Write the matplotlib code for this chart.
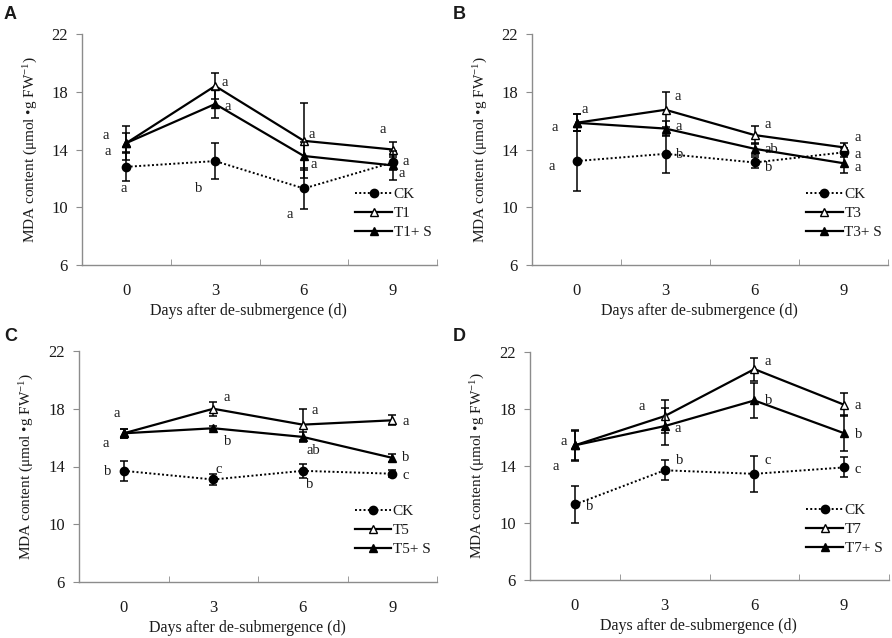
import numpy as np
import matplotlib
matplotlib.use("Agg")
from matplotlib import pyplot as plt
from matplotlib.lines import Line2D

plt.rcParams['font.family'] = ['Liberation Serif', 'DejaVu Serif']
plt.rcParams['mathtext.fontset'] = 'custom'
plt.rcParams['mathtext.rm'] = 'Liberation Serif'
plt.rcParams['mathtext.it'] = 'Liberation Serif:italic'

#==========+
# The data |
#==========+
days = ['0', '3', '6', '9']
yticks = [6, 10, 14, 18, 22]

# panel A
ckA = [12.8, 13.2, 11.3, 13.1]
ckA_err = [1.0, 1.25, 1.4, 0.5]
tA = [14.45, 18.4, 14.6, 14.0]
tA_err = [1.2, 0.9, 2.6, 0.5]
tsA = [14.45, 17.15, 13.55, 12.9]
tsA_err = [0.7, 1.0, 1.0, 1.0]
lettersA = {'ck': ['a', 'b', 'a', 'a'], 't': ['a', 'a', 'a', 'a'], 'ts': ['a', 'a', 'a', 'a']}

# panel B
ckB = [13.2, 13.7, 13.1, 13.8]
ckB_err = [2.1, 1.3, 0.4, 0.3]
tB = [15.85, 16.75, 15.0, 14.15]
tB_err = [0.6, 1.2, 0.6, 0.3]
tsB = [15.85, 15.45, 14.05, 13.05]
tsB_err = [0.6, 0.5, 0.4, 0.7]
lettersB = {'ck': ['a', 'b', 'b', 'a'], 't': ['a', 'a', 'a', 'a'], 'ts': ['a', 'a', 'ab', 'a']}

# panel C
ckC = [13.7, 13.1, 13.7, 13.5]
ckC_err = [0.7, 0.35, 0.5, 0.25]
tC = [16.3, 18.0, 16.9, 17.2]
tC_err = [0.3, 0.5, 1.05, 0.35]
tsC = [16.3, 16.65, 16.05, 14.6]
tsC_err = [0.3, 0.15, 0.35, 0.3]
lettersC = {'ck': ['b', 'c', 'b', 'c'], 't': ['a', 'a', 'a', 'a'], 'ts': ['a', 'b', 'ab', 'b']}

# panel D
ckD = [11.3, 13.7, 13.45, 13.9]
ckD_err = [1.3, 0.7, 1.25, 0.7]
tD = [15.45, 17.5, 20.8, 18.3]
tD_err = [1.0, 1.15, 0.8, 0.8]
tsD = [15.45, 16.8, 18.6, 16.3]
tsD_err = [1.1, 1.3, 1.2, 1.25]
lettersD = {'ck': ['b', 'b', 'c', 'c'], 't': ['a', 'a', 'a', 'a'], 'ts': ['a', 'a', 'b', 'b']}

#=======================================+
# Letter offsets from each point (px)   |
#=======================================+
offsA = {'ck': [(-3, -22), (-16, -27), (-14, -26), (13, 1)],
         't': [(-21, 8), (10, 3), (8, 6), (-10, 20)],
         'ts': [(-19, -8), (13, -2), (10, -9), (9, -8)]}
offsB = {'ck': [(-25, -5), (14, -1), (14, -5), (14, -2)],
         't': [(8, 13), (12, 13), (13, 11), (14, 10)],
         'ts': [(-22, -5), (13, 2), (17, -1), (14, -4)]}
offsC = {'ck': [(-16, -1), (5, 10), (7, -14), (13, -2)],
         't': [(-7, 20), (13, 11), (12, 14), (13, -1)],
         'ts': [(-18, -10), (14, -13), (11, -14), (13, 0)]}
offsD = {'ck': [(15, -2), (15, 10), (13, 13), (14, -2)],
         't': [(-11, 4), (-23, 10), (13, 8), (14, -1)],
         'ts': [(-19, -21), (13, -2), (14, 0), (15, -1)]}

panels = [
    ('A', 'T1', ckA, ckA_err, tA, tA_err, tsA, tsA_err, lettersA, offsA, (82, 34, 437, 265), (4, 6)),
    ('B', 'T3', ckB, ckB_err, tB, tB_err, tsB, tsB_err, lettersB, offsB, (532, 34, 888, 265), (453, 6)),
    ('C', 'T5', ckC, ckC_err, tC, tC_err, tsC, tsC_err, lettersC, offsC, (79, 351, 437, 582), (4, 328)),
    ('D', 'T7', ckD, ckD_err, tD, tD_err, tsD, tsD_err, lettersD, offsD, (530, 352, 889, 580), (453, 328)),
]

W, H = 892, 638
fig = plt.figure(figsize=(W / 100, H / 100), dpi=100)
txt = '#1a1a1a'
grey = '#8c8c8c'

for tag, tname, ck, ck_e, t, t_e, ts, ts_e, letters, offs, box, tagpos in panels:
    l, top, r, b = box
    ax = fig.add_axes([l / W, (H - b) / H, (r - l) / W, (b - top) / H])
    x = np.arange(len(days))

    ax.errorbar(x, ck, yerr=ck_e, color='black', ls=(0, (1, 1.2)), lw=1.4,
                marker='o', ms=6, capsize=3, elinewidth=1.1, capthick=1.1, zorder=3)
    ax.errorbar(x, t, yerr=t_e, color='black', ls='-', lw=1.6,
                marker='^', ms=6, mfc='white', mec='black', capsize=3,
                elinewidth=1.1, capthick=1.1, zorder=3)
    ax.errorbar(x, ts, yerr=ts_e, color='black', ls='-', lw=1.6,
                marker='^', ms=6, capsize=3, elinewidth=1.1, capthick=1.1, zorder=4)

    # significance letters
    for key, vals in (('ck', ck), ('t', t), ('ts', ts)):
        for i in range(len(days)):
            ax.annotate(letters[key][i], xy=(x[i], vals[i]), xytext=offs[key][i],
                        textcoords='offset pixels', ha='center', va='center',
                        fontsize=10.5, color=txt)

    ax.set_xlim(-0.5, len(days) - 0.5)
    ax.set_ylim(6, 22)
    ax.set_yticks(yticks)
    ax.set_xticks(x)
    ax.set_xticklabels(days)
    ax.set_xticks(np.arange(-0.5, len(days), 1.0), minor=True)
    ax.tick_params(axis='x', which='major', length=0, pad=13, labelsize=12, labelcolor=txt)
    ax.tick_params(axis='x', which='minor', direction='in', length=4, color=grey)
    ax.tick_params(axis='y', direction='out', length=4, color=grey, pad=6,
                   labelsize=12, labelcolor=txt)
    for s in ('top', 'right'):
        ax.spines[s].set_visible(False)
    for s in ('left', 'bottom'):
        ax.spines[s].set_color(grey)
        ax.spines[s].set_linewidth(1.0)

    ax.set_xlabel('Days after de-submergence (d)', fontsize=11.5, color=txt, va='center')
    ax.xaxis.set_label_coords(0.47, -0.2)
    ax.set_ylabel(r'MDA content ($\mathrm{\mu}$mol •g FW$^{\mathrm{-1}}$)', fontsize=11,
                  color=txt, va='center')
    ax.yaxis.set_label_coords(-0.145, 0.5)

    handles = [
        Line2D([], [], color='black', ls=(0, (1, 1.2)), lw=1.4, marker='o', ms=6),
        Line2D([], [], color='black', ls='-', lw=1.6, marker='^', ms=6, mfc='white'),
        Line2D([], [], color='black', ls='-', lw=1.6, marker='^', ms=6),
    ]
    ax.legend(handles, ['CK', tname, tname + '+ S'], loc='upper left',
              bbox_to_anchor=(0.77, 0.335), frameon=False, fontsize=11,
              handlelength=2.4, handletextpad=0.1, labelspacing=0.35,
              borderpad=0, borderaxespad=0, labelcolor=txt)

    fig.text(tagpos[0] / W, 1 - tagpos[1] / H, tag, fontsize=13, fontweight='bold',
             family='Liberation Sans', ha='left', va='top', color=txt)

plt.savefig('out.png', dpi=100)
